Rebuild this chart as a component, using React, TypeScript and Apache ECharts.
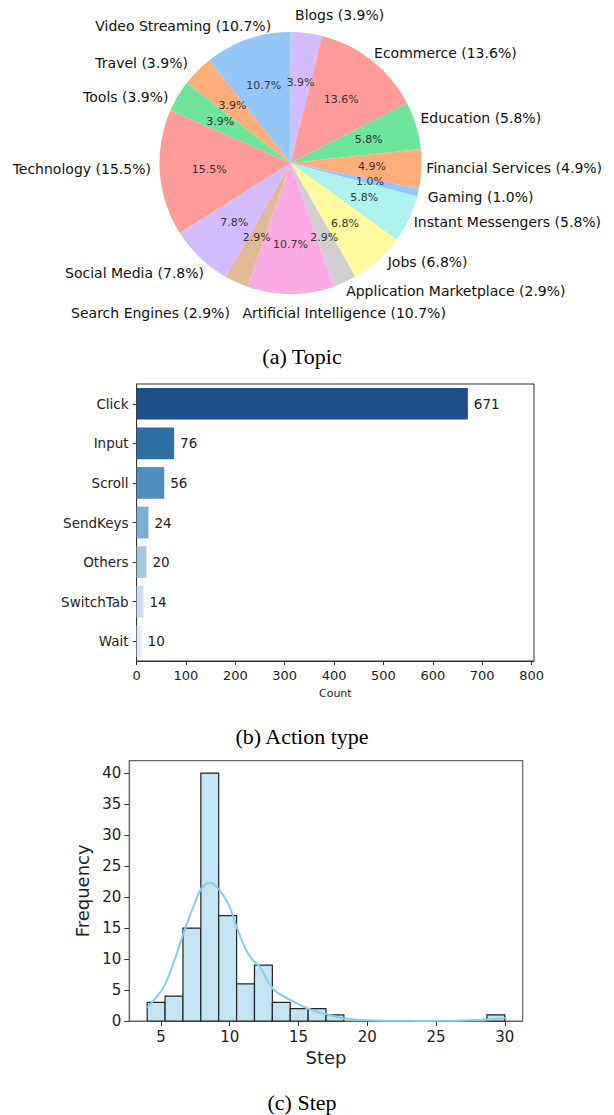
import React, { useEffect, useRef } from 'react';
import * as echarts from 'echarts';

// ---------- (a) Topic ----------
const topicNames = [
  'Blogs', 'Ecommerce', 'Education', 'Financial Services', 'Gaming',
  'Instant Messengers', 'Jobs', 'Application Marketplace', 'Artificial Intelligence',
  'Search Engines', 'Social Media', 'Technology', 'Tools', 'Travel', 'Video Streaming',
];
const topicCounts = [4, 14, 6, 5, 1, 6, 7, 3, 11, 3, 8, 16, 4, 4, 11];
const topicColors = [
  '#d3bbff', '#ff9c99', '#6de59b', '#ffae7a', '#94c6f7', '#aef2ee', '#fffb9c',
  '#cfcfcf', '#fcaae6', '#e2b997', '#d3bbff', '#ff9c99', '#6de59b', '#ffae7a', '#94c6f7',
];

// ---------- (b) Action type ----------
const actionTypes = ['Click', 'Input', 'Scroll', 'SendKeys', 'Others', 'SwitchTab', 'Wait'];
const actionCounts = [671, 76, 56, 24, 20, 14, 10];
const actionColors = ['#1f4f8a', '#2f6da5', '#508dbf', '#7aaed4', '#a4c8e0', '#cbdcee', '#e2ebf6'];
const countTicks = [0, 100, 200, 300, 400, 500, 600, 700, 800];

// ---------- (c) Step ----------
const stepBinStart = 4;
const stepBinWidth = 1.3;
const stepCounts = [3, 4, 15, 40, 17, 6, 9, 3, 2, 2, 1, 0, 0, 0, 0, 0, 0, 0, 0, 1];
const kdeX = [4.0, 4.5, 5.2, 5.9, 6.6, 7.35, 7.95, 8.55, 9.15, 9.9, 10.5, 11.2, 11.7, 12.2, 13.15, 14.4, 15.8, 17.0, 18.25, 19.95, 22, 24, 26.5, 28, 29, 30];
const kdeY = [2.15, 3.4, 5.5, 9.3, 13.85, 18.4, 21.4, 22.3, 21.4, 18.9, 15.2, 11.4, 9.8, 8.7, 5.2, 3.4, 1.9, 1.13, 0.43, 0.12, 0.03, 0.02, 0.06, 0.15, 0.3, 0.45];
const stepTicks = [5, 10, 15, 20, 25, 30];
const freqTicks = [0, 5, 10, 15, 20, 25, 30, 35, 40];

const captions = ['(a) Topic', '(b) Action type', '(c) Step'];

// layout constants
const PIE_CX = 290.5;
const PIE_CY = 163;
const PIE_R = 131;
const PIE_LABEL_R = 144;
const labelNudge: Record<string, [number, number, string?]> = {
  'Video Streaming': [28, -1],
  'Travel': [0, 1],
  'Tools': [2, 7],
  'Technology': [4, -5],
  'Social Media': [13, 6],
  'Search Engines': [-1, 19],
  'Artificial Intelligence': [-48, 6, 'left'],
  'Application Marketplace': [-4, -3],
  'Jobs': [1, -8],
  'Instant Messengers': [-7, -3],
  'Gaming': [-3, 1],
  'Financial Services': [-8, -2],
  'Education': [-8, -4],
  'Ecommerce': [-6, 3],
  'Blogs': [-13, -5],
};

const SANS = 'DejaVu Sans';
const SERIF = 'Liberation Serif';

export default function App() {
  const ref = useRef<HTMLDivElement>(null);

  useEffect(() => {
    if (!ref.current) return;
    const chart = echarts.init(ref.current, undefined, { renderer: 'svg' });

    const total = topicCounts.reduce((a, b) => a + b, 0);
    const cum: number[] = [];
    let acc = 0;
    topicCounts.forEach((v) => { cum.push(acc); acc += v; });
    const pct = (v: number) => ((v / total) * 100).toFixed(1);

    const pieData = topicNames.map((n, i) => ({
      name: n,
      value: topicCounts[i],
      itemStyle: { color: topicColors[i] },
    }));

    const histData = stepCounts.map((c, i) => [
      stepBinStart + stepBinWidth * i,
      stepBinStart + stepBinWidth * (i + 1),
      c,
    ]);
    const kdeData = kdeX.map((x, i) => [x, kdeY[i]]);

    const option: any = {
      animation: false,
      backgroundColor: '#ffffff',
      textStyle: { fontFamily: SANS },
      grid: [
        { left: 136.6, top: 384, width: 397.4, height: 277, show: true, borderColor: '#333', borderWidth: 1, backgroundColor: 'transparent' },
        { left: 129.3, top: 760.7, width: 393.4, height: 260.3, show: true, borderColor: '#666', borderWidth: 1.2, backgroundColor: 'transparent' },
      ],
      xAxis: [
        {
          type: 'value', gridIndex: 0, min: 0, max: 805,
          splitLine: { show: false },
          axisLine: { show: true, lineStyle: { color: '#333', width: 1 } },
          axisTick: { show: true, length: 4, lineStyle: { color: '#333' }, customValues: countTicks },
          axisLabel: { fontSize: 13, color: '#222', margin: 8, customValues: countTicks, fontFamily: SANS },
          name: 'Count', nameLocation: 'middle', nameGap: 27,
          nameTextStyle: { fontSize: 11, color: '#222', fontFamily: SANS },
        },
        {
          type: 'value', gridIndex: 1, min: 2.7, max: 31.3,
          splitLine: { show: false },
          axisLine: { show: true, lineStyle: { color: '#666', width: 1.2 } },
          axisTick: { show: true, length: 5, lineStyle: { color: '#333' }, customValues: stepTicks },
          axisLabel: { fontSize: 15, color: '#222', margin: 8, customValues: stepTicks, fontFamily: SANS },
          name: 'Step', nameLocation: 'middle', nameGap: 27,
          nameTextStyle: { fontSize: 18, color: '#222', fontFamily: SANS },
        },
      ],
      yAxis: [
        {
          type: 'category', gridIndex: 0, data: actionTypes, inverse: true,
          axisLine: { show: true, lineStyle: { color: '#333', width: 1 } },
          axisTick: { show: true, length: 4, alignWithLabel: true, lineStyle: { color: '#333' } },
          axisLabel: { fontSize: 13.5, color: '#222', margin: 8, fontFamily: SANS },
          splitLine: { show: false },
        },
        {
          type: 'value', gridIndex: 1, min: 0, max: 42,
          splitLine: { show: false },
          axisLine: { show: true, lineStyle: { color: '#666', width: 1.2 } },
          axisTick: { show: true, length: 5, lineStyle: { color: '#333' }, customValues: freqTicks },
          axisLabel: { fontSize: 15, color: '#222', margin: 8, customValues: freqTicks, fontFamily: SANS },
          name: 'Frequency', nameLocation: 'middle', nameGap: 36, nameRotate: 90,
          nameTextStyle: { fontSize: 18, color: '#222', fontFamily: SANS },
        },
      ],
      series: [
        {
          type: 'pie',
          center: [PIE_CX, PIE_CY],
          radius: PIE_R,
          startAngle: 90,
          clockwise: true,
          avoidLabelOverlap: false,
          silent: true,
          data: pieData,
          label: {
            show: true,
            position: 'outside',
            fontSize: 14,
            color: '#111',
            fontFamily: SANS,
            formatter: (p: any) => `${p.name} (${pct(p.value)}%)`,
          },
          labelLine: { show: false, length: 4, length2: 0 },
          labelLayout: (p: any) => {
            const i = p.dataIndex;
            const mid = ((cum[i] + topicCounts[i] / 2) / total) * 2 * Math.PI;
            const ang = Math.PI / 2 - mid;
            const c = Math.cos(ang);
            const s = Math.sin(ang);
            const nd = labelNudge[topicNames[i]] || [0, 0];
            return {
              x: PIE_CX + PIE_LABEL_R * c + nd[0],
              y: PIE_CY - PIE_LABEL_R * s + nd[1],
              align: nd[2] || (c < 0 ? 'right' : 'left'),
              verticalAlign: 'middle',
            };
          },
          emphasis: { disabled: true },
        },
        {
          type: 'pie',
          center: [PIE_CX, PIE_CY],
          radius: [PIE_R * 0.2, PIE_R],
          startAngle: 90,
          clockwise: true,
          avoidLabelOverlap: false,
          silent: true,
          z: 3,
          data: topicNames.map((n, i) => ({ name: n, value: topicCounts[i] })),
          itemStyle: { color: 'rgba(0,0,0,0)' },
          label: {
            show: true,
            position: 'inside',
            fontSize: 11,
            color: '#333',
            fontFamily: SANS,
            formatter: (p: any) => `${pct(p.value)}%`,
          },
          labelLine: { show: false },
          emphasis: { disabled: true },
        },
        {
          type: 'bar',
          xAxisIndex: 0,
          yAxisIndex: 0,
          barCategoryGap: '20%',
          silent: true,
          data: actionCounts.map((v, i) => ({ value: v, itemStyle: { color: actionColors[i] } })),
          label: {
            show: true,
            position: 'right',
            distance: 6,
            fontSize: 13.5,
            color: '#222',
            fontFamily: SANS,
          },
        },
        {
          type: 'custom',
          xAxisIndex: 1,
          yAxisIndex: 1,
          silent: true,
          data: histData,
          encode: { x: [0, 1], y: 2 },
          renderItem: (params: any, api: any) => {
            const x0 = api.value(0);
            const x1 = api.value(1);
            const h = api.value(2);
            if (!h) return { type: 'group', children: [] };
            const p1 = api.coord([x0, h]);
            const p2 = api.coord([x1, 0]);
            return {
              type: 'rect',
              shape: { x: p1[0], y: p1[1], width: p2[0] - p1[0], height: p2[1] - p1[1] },
              style: { fill: '#c2e4f3', stroke: '#222', lineWidth: 1.2 },
            };
          },
          z: 2,
        },
        {
          type: 'line',
          xAxisIndex: 1,
          yAxisIndex: 1,
          silent: true,
          data: kdeData,
          smooth: 0.4,
          symbol: 'none',
          lineStyle: { color: '#87ceeb', width: 2 },
          z: 5,
        },
      ],
      graphic: [
        { type: 'text', x: 302, y: 356, style: { text: captions[0], fontFamily: SERIF, fontSize: 22, fill: '#000', textAlign: 'center', textVerticalAlign: 'middle' } },
        { type: 'text', x: 302, y: 736, style: { text: captions[1], fontFamily: SERIF, fontSize: 22, fill: '#000', textAlign: 'center', textVerticalAlign: 'middle' } },
        { type: 'text', x: 302, y: 1102, style: { text: captions[2], fontFamily: SERIF, fontSize: 22, fill: '#000', textAlign: 'center', textVerticalAlign: 'middle' } },
      ],
    };

    chart.setOption(option);
    return () => chart.dispose();
  }, []);

  return (
    <div
      ref={ref}
      style={{ position: 'absolute', left: 0, top: 0, width: 614, height: 1115, background: '#fff' }}
    />
  );
}
